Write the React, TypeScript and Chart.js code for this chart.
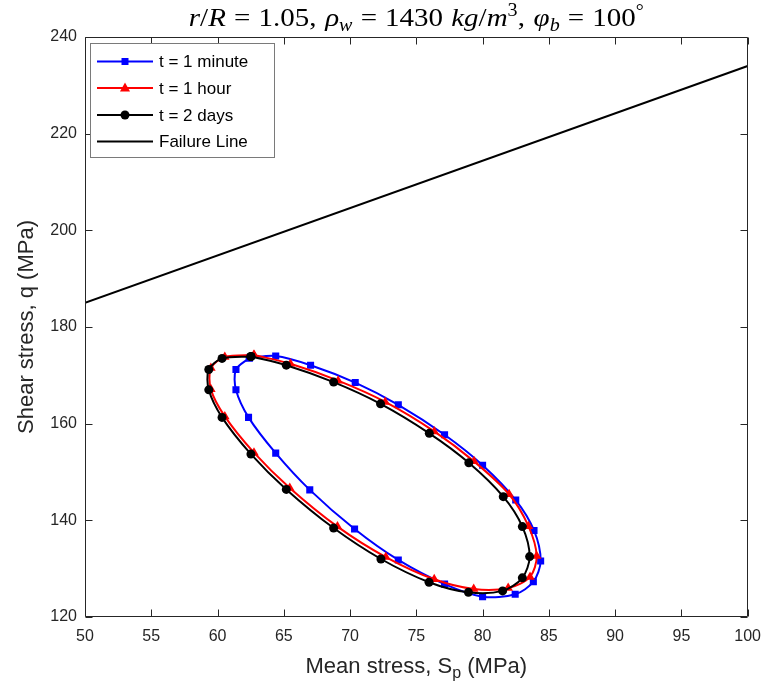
import React, { useEffect, useRef } from "react";
import { Chart, registerables } from "chart.js";

Chart.register(...registerables);

// ---- Data ----
const xTickValues = [50, 55, 60, 65, 70, 75, 80, 85, 90, 95, 100];
const yTickValues = [120, 140, 160, 180, 200, 220, 240];

const minuteX = [62.4, 64.39, 67.02, 70.39, 73.64, 77.13, 80.0, 82.5, 83.88, 84.38, 83.83, 82.46, 80.0, 77.13, 73.64, 70.34, 66.96, 64.39, 62.34, 61.39, 61.39, 62.4];
const minuteY = [173.6, 174.0, 172.1, 168.5, 163.9, 157.7, 151.4, 144.2, 137.9, 131.6, 127.3, 124.7, 124.2, 126.8, 131.8, 138.2, 146.3, 153.9, 161.3, 167.0, 171.2, 173.6];

const hourX = [62.75, 65.5, 69.1, 72.65, 76.35, 79.35, 82.0, 83.46, 84.08, 83.58, 81.93, 79.33, 76.35, 72.7, 69.05, 65.45, 62.75, 60.55, 59.5, 59.5, 60.55, 62.75];
const hourY = [174.2, 172.4, 168.9, 164.5, 158.4, 152.2, 145.4, 138.8, 132.6, 128.3, 126.0, 125.8, 127.8, 132.4, 138.7, 146.7, 154.0, 161.5, 167.1, 171.5, 173.8, 174.2];

const daysX = [62.52, 65.19, 68.76, 72.3, 75.98, 78.96, 81.56, 83.0, 83.55, 83.0, 81.51, 78.93, 75.96, 72.33, 68.76, 65.19, 62.52, 60.34, 59.34, 59.34, 60.34, 62.52];
const daysY = [173.9, 172.1, 168.6, 164.1, 158.0, 151.9, 144.9, 138.7, 132.5, 128.1, 125.4, 125.1, 127.2, 132.0, 138.4, 146.4, 153.7, 161.3, 167.0, 171.2, 173.5, 173.9];

const failureX = [50, 100];
const failureY = [185, 234];

const legendLabels = ["t = 1 minute", "t = 1 hour", "t = 2 days", "Failure Line"];

const SANS = "Liberation Sans, Arial, Helvetica, sans-serif";
const SERIF = "Liberation Serif, Times New Roman, serif";
const TEXT = "#262626";

const zip = (xs: number[], ys: number[]) => xs.map((x, i) => ({ x, y: ys[i] }));

type Seg = { t: string; italic?: boolean; shift?: number; small?: boolean; gap?: number };

function drawMarker(ctx: CanvasRenderingContext2D, kind: string, x: number, y: number, color: string) {
  ctx.fillStyle = color;
  ctx.beginPath();
  if (kind === "rect") {
    ctx.rect(x - 3.5, y - 3.5, 7, 7);
  } else if (kind === "triangle") {
    ctx.moveTo(x, y - 5.5);
    ctx.lineTo(x + 5, y + 3.5);
    ctx.lineTo(x - 5, y + 3.5);
    ctx.closePath();
  } else if (kind === "circle") {
    ctx.arc(x, y, 4.5, 0, Math.PI * 2);
  }
  ctx.fill();
}

const decorPlugin = {
  id: "decor",
  afterDraw(chart: any) {
    const ctx: CanvasRenderingContext2D = chart.ctx;
    const { left, right, top, bottom } = chart.chartArea;
    const xs = chart.scales.x;
    const ys = chart.scales.y;
    ctx.save();

    // axes box
    ctx.strokeStyle = TEXT;
    ctx.lineWidth = 1;
    const L = Math.round(left) + 0.5;
    const R = Math.round(right) - 0.5;
    const T = Math.round(top) + 0.5;
    const B = Math.round(bottom) - 0.5;
    ctx.beginPath();
    ctx.rect(L, T, R - L, B - T);
    ctx.stroke();

    // inward ticks
    ctx.beginPath();
    for (const v of xTickValues) {
      const px = Math.round(xs.getPixelForValue(v)) + 0.5;
      ctx.moveTo(px, B);
      ctx.lineTo(px, B - 7);
      ctx.moveTo(px, T);
      ctx.lineTo(px, T + 7);
    }
    for (const v of yTickValues) {
      const py = Math.round(ys.getPixelForValue(v)) + 0.5;
      ctx.moveTo(L, py);
      ctx.lineTo(L + 7, py);
      ctx.moveTo(R, py);
      ctx.lineTo(R - 7, py);
    }
    ctx.stroke();

    // Title (math style)
    const fs = 26;
    const rel = 0.28 * fs;
    const segs: Seg[] = [
      { t: "r", italic: true },
      { t: "/" },
      { t: "R", italic: true },
      { t: "=", gap: rel },
      { t: "1.05," },
      { t: "ρ", italic: true, gap: 0.3 * fs },
      { t: "w", italic: true, shift: 5, small: true },
      { t: "=", gap: rel },
      { t: "1430" },
      { t: "kg", italic: true, gap: 0.28 * fs },
      { t: "/" },
      { t: "m", italic: true },
      { t: "3", shift: -10, small: true },
      { t: "," },
      { t: "φ", italic: true, gap: 0.3 * fs },
      { t: "b", italic: true, shift: 5, small: true },
      { t: "=", gap: rel },
      { t: "100" },
      { t: "°", shift: -9, small: true },
    ];
    const fontFor = (s: Seg) => `${s.italic ? "italic " : ""}${s.small ? Math.round(fs * 0.7) : fs}px ${SERIF}`;
    // gap: space added before segment; for "=" also after
    let total = 0;
    const widths: number[] = [];
    for (const s of segs) {
      ctx.font = fontFor(s);
      const w = ctx.measureText(s.t).width;
      widths.push(w);
      total += w + (s.gap || 0) * (s.t === "=" ? 2 : 1);
    }
    const target = 455;
    const sx = Math.min(1.15, Math.max(1, target / total));
    const drawnW = total * sx;
    ctx.save();
    ctx.translate((left + right) / 2 - drawnW / 2, 26);
    ctx.scale(sx, 1);
    ctx.fillStyle = "#000";
    ctx.textBaseline = "alphabetic";
    ctx.textAlign = "left";
    let cx = 0;
    segs.forEach((s, i) => {
      ctx.font = fontFor(s);
      cx += s.gap || 0;
      ctx.fillText(s.t, cx, s.shift || 0);
      cx += widths[i];
      if (s.t === "=") cx += s.gap || 0;
    });
    ctx.restore();

    // x axis title
    ctx.fillStyle = TEXT;
    const afs = 22;
    const xt: Seg[] = [
      { t: "Mean stress, S" },
      { t: "p", shift: 5, small: true },
      { t: " (MPa)" },
    ];
    const afont = (s: Seg) => `${s.small ? Math.round(afs * 0.72) : afs}px ${SANS}`;
    total = 0;
    for (const s of xt) {
      ctx.font = afont(s);
      total += ctx.measureText(s.t).width;
    }
    cx = (left + right) / 2 - total / 2;
    ctx.textAlign = "left";
    ctx.textBaseline = "alphabetic";
    for (const s of xt) {
      ctx.font = afont(s);
      ctx.fillText(s.t, cx, 673 + (s.shift || 0));
      cx += ctx.measureText(s.t).width;
    }

    // y axis title
    ctx.save();
    ctx.translate(33, (top + bottom) / 2);
    ctx.rotate(-Math.PI / 2);
    ctx.font = `${afs}px ${SANS}`;
    ctx.textAlign = "center";
    ctx.fillText("Shear stress, q (MPa)", 0, 0);
    ctx.restore();

    // Legend
    const bx = 90.5, by = 43.5, bw = 184, bh = 114;
    ctx.fillStyle = "#fff";
    ctx.fillRect(bx, by, bw, bh);
    ctx.strokeStyle = "#7a7a7a";
    ctx.lineWidth = 1;
    ctx.strokeRect(bx, by, bw, bh);
    const colors = ["#0000ff", "#ff0000", "#000000", "#000000"];
    const markers = ["rect", "triangle", "circle", ""];
    const rowY = [61.5, 88, 115, 141.5];
    ctx.textAlign = "left";
    ctx.textBaseline = "middle";
    ctx.font = `17px ${SANS}`;
    for (let i = 0; i < 4; i++) {
      ctx.strokeStyle = colors[i];
      ctx.lineWidth = 2;
      ctx.beginPath();
      ctx.moveTo(97, rowY[i]);
      ctx.lineTo(153, rowY[i]);
      ctx.stroke();
      if (markers[i]) drawMarker(ctx, markers[i], 125, rowY[i], colors[i]);
      ctx.fillStyle = "#000";
      ctx.fillText(legendLabels[i], 159, rowY[i] + 1);
    }

    ctx.restore();
  },
};

export default function App() {
  const ref = useRef<HTMLCanvasElement | null>(null);

  useEffect(() => {
    if (!ref.current) return;
    const chart = new Chart(ref.current, {
      type: "scatter",
      data: {
        datasets: [
          {
            label: legendLabels[0],
            data: zip(minuteX, minuteY),
            showLine: true,
            borderColor: "#0000ff",
            backgroundColor: "#0000ff",
            borderWidth: 2,
            pointStyle: "rect",
            pointRadius: 5,
            pointBorderWidth: 0,
            tension: 0.3,
            order: 2,
          },
          {
            label: legendLabels[1],
            data: zip(hourX, hourY),
            showLine: true,
            borderColor: "#ff0000",
            backgroundColor: "#ff0000",
            borderWidth: 2,
            pointStyle: "triangle",
            pointRadius: 5.5,
            pointBorderWidth: 0,
            tension: 0.3,
            order: 1,
          },
          {
            label: legendLabels[2],
            data: zip(daysX, daysY),
            showLine: true,
            borderColor: "#000000",
            backgroundColor: "#000000",
            borderWidth: 2,
            pointStyle: "circle",
            pointRadius: 4.5,
            pointBorderWidth: 0,
            tension: 0.3,
            order: 0,
          },
          {
            label: legendLabels[3],
            data: zip(failureX, failureY),
            showLine: true,
            borderColor: "#000000",
            backgroundColor: "#000000",
            borderWidth: 2,
            pointRadius: 0,
            order: 3,
          },
        ],
      },
      options: {
        responsive: false,
        animation: false,
        layout: { padding: { top: 37, right: 17, left: 0, bottom: 0 } },
        plugins: {
          legend: { display: false },
          tooltip: { enabled: false },
          title: { display: false },
        },
        scales: {
          x: {
            type: "linear",
            min: 50,
            max: 100,
            grid: { display: false, drawTicks: false },
            border: { display: false },
            ticks: {
              stepSize: 5,
              padding: 10,
              color: TEXT,
              font: { family: SANS, size: 16 },
              maxRotation: 0,
            },
            afterFit: (s: any) => {
              s.height = 81;
            },
          },
          y: {
            type: "linear",
            min: 120,
            max: 240,
            grid: { display: false, drawTicks: false },
            border: { display: false },
            ticks: {
              stepSize: 20,
              padding: 8,
              color: TEXT,
              font: { family: SANS, size: 16 },
            },
            afterFit: (s: any) => {
              s.width = 85;
            },
          },
        },
      },
      plugins: [decorPlugin],
    });
    return () => chart.destroy();
  }, []);

  return (
    <div style={{ position: "absolute", left: 0, top: 0, width: 771, height: 698, background: "#fff" }}>
      <canvas ref={ref} width={771} height={698} style={{ display: "block" }} />
    </div>
  );
}
